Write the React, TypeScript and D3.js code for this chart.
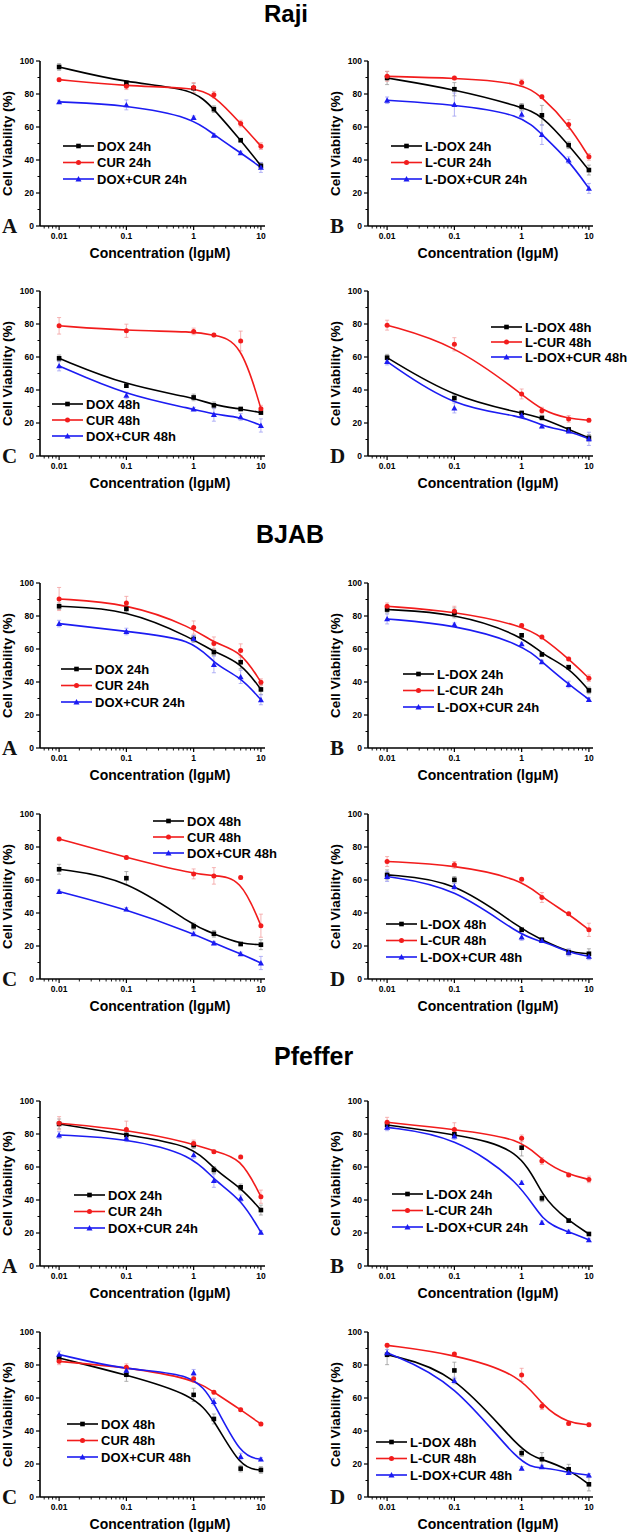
import React from 'react';
import * as d3 from 'd3';

// ---------- data ----------
const CONC = [0.01, 0.1, 1, 2, 5, 10];
const X_TICKS = [0.01, 0.1, 1, 10];
const X_TICK_LABELS = ['0.01', '0.1', '1', '10'];
const Y_TICKS = [0, 20, 40, 60, 80, 100];
const Y_MINOR = [10, 30, 50, 70, 90];
const GROUPS = ['Raji', 'BJAB', 'Pfeffer'];
const LETTERS = ['A', 'B', 'C', 'D'];
const NAMES_FREE_24 = ['DOX 24h', 'CUR 24h', 'DOX+CUR 24h'];
const NAMES_LIPO_24 = ['L-DOX 24h', 'L-CUR 24h', 'L-DOX+CUR 24h'];
const NAMES_FREE_48 = ['DOX 48h', 'CUR 48h', 'DOX+CUR 48h'];
const NAMES_LIPO_48 = ['L-DOX 48h', 'L-CUR 48h', 'L-DOX+CUR 48h'];

// Raji
const rajiA_DOX = [96.4, 86.7, 83.5, 70.8, 52.0, 36.5];
const rajiA_CUR = [88.7, 84.7, 83.9, 79.6, 62.1, 48.4];
const rajiA_MIX = [75.2, 73.4, 65.7, 55.0, 44.4, 35.5];
const rajiB_DOX = [89.7, 82.9, 72.2, 67.1, 49.0, 33.9];
const rajiB_CUR = [90.7, 89.7, 86.9, 78.4, 61.5, 41.9];
const rajiB_MIX = [76.2, 73.6, 67.7, 55.4, 39.9, 22.8];
const rajiC_DOX = [59.2, 42.6, 35.5, 30.7, 28.5, 26.3];
const rajiC_CUR = [78.9, 75.9, 75.5, 73.3, 69.7, 28.7];
const rajiC_MIX = [54.6, 36.7, 28.5, 25.1, 23.7, 18.5];
const rajiD_DOX = [59.6, 35.1, 26.1, 23.1, 16.1, 11.0];
const rajiD_CUR = [79.3, 67.7, 37.6, 27.5, 22.5, 21.7];
const rajiD_MIX = [57.2, 29.1, 24.7, 18.1, 15.1, 10.4];
// BJAB
const bjabA_DOX = [85.9, 84.3, 66.1, 58.1, 52.0, 35.5];
const bjabA_CUR = [90.3, 87.9, 73.0, 63.3, 59.1, 39.9];
const bjabA_MIX = [75.4, 70.6, 66.3, 50.6, 43.1, 29.2];
const bjabB_DOX = [83.9, 81.9, 68.3, 56.7, 49.0, 34.9];
const bjabB_CUR = [85.9, 82.9, 74.2, 67.3, 54.0, 42.3];
const bjabB_MIX = [78.2, 74.8, 63.1, 52.2, 38.5, 29.4];
const bjabC_DOX = [66.5, 61.1, 31.9, 27.4, 21.2, 20.8];
const bjabC_CUR = [84.9, 73.6, 63.7, 62.5, 61.5, 32.3];
const bjabC_MIX = [53.0, 42.3, 27.4, 21.8, 15.3, 9.7];
const bjabD_DOX = [63.1, 60.1, 29.8, 23.8, 16.1, 15.3];
const bjabD_CUR = [71.2, 69.2, 60.5, 49.4, 39.5, 29.8];
const bjabD_MIX = [62.1, 56.0, 25.4, 23.2, 16.1, 13.7];
// Pfeffer
const pfefA_DOX = [86.1, 79.4, 73.3, 58.2, 47.7, 33.9];
const pfefA_CUR = [86.5, 82.8, 74.3, 69.3, 66.1, 42.0];
const pfefA_MIX = [79.4, 77.4, 67.3, 51.7, 41.0, 20.4];
const pfefB_DOX = [85.5, 79.8, 71.7, 41.0, 27.5, 19.4];
const pfefB_CUR = [87.1, 82.8, 77.4, 63.6, 55.2, 52.5];
const pfefB_MIX = [84.0, 78.8, 50.5, 26.3, 20.8, 15.8];
const pfefC_DOX = [84.2, 74.1, 61.9, 47.3, 17.2, 16.4];
const pfefC_CUR = [82.2, 78.7, 71.6, 63.5, 52.9, 44.2];
const pfefC_MIX = [86.4, 76.7, 75.3, 57.8, 24.5, 22.9];
const pfefD_DOX = [86.2, 76.7, 26.6, 22.9, 16.8, 7.7];
const pfefD_CUR = [91.9, 86.6, 74.0, 55.0, 44.6, 43.8];
const pfefD_MIX = [87.4, 70.6, 17.4, 18.3, 14.8, 13.2];

// error bars (SD)
const ERR = [
  [[2, 1, 3, 2, 1, 2], [1, 2, 3, 2, 2, 2], [1, 3, 1, 1, 1, 3]],
  [[4, 4, 2, 6, 2, 3], [3, 1, 2, 1, 3, 2], [2, 7, 2, 6, 2, 3]],
  [[2, 1, 2, 2, 1, 1], [5, 4, 2, 1, 6, 2], [3, 2, 1, 4, 2, 4]],
  [[2, 2, 1, 1, 1, 2], [3, 4, 3, 2, 2, 1], [2, 3, 1, 1, 1, 4]],
  [[2, 2, 2, 2, 4, 3], [7, 4, 4, 4, 4, 2], [2, 2, 2, 5, 4, 3]],
  [[2, 3, 1, 1, 1, 2], [2, 3, 1, 1, 1, 2], [3, 1, 1, 1, 2, 1]],
  [[3, 4, 2, 2, 1, 3], [1, 1, 3, 5, 1, 7], [1, 1, 1, 1, 1, 4]],
  [[3, 2, 1, 1, 2, 3], [3, 2, 1, 3, 1, 4], [3, 2, 2, 1, 2, 2]],
  [[3, 2, 2, 2, 2, 3], [4, 5, 2, 1, 1, 4], [2, 2, 2, 4, 2, 1]],
  [[2, 2, 5, 2, 1, 1], [3, 4, 2, 2, 1, 2], [2, 2, 1, 1, 1, 1]],
  [[2, 4, 4, 3, 2, 2], [2, 2, 2, 1, 1, 1], [2, 2, 2, 2, 2, 1]],
  [[6, 5, 2, 4, 3, 4], [1, 1, 4, 2, 1, 1], [2, 2, 1, 1, 1, 1]],
];

const PANEL_SERIES = [
  [rajiA_DOX, rajiA_CUR, rajiA_MIX],
  [rajiB_DOX, rajiB_CUR, rajiB_MIX],
  [rajiC_DOX, rajiC_CUR, rajiC_MIX],
  [rajiD_DOX, rajiD_CUR, rajiD_MIX],
  [bjabA_DOX, bjabA_CUR, bjabA_MIX],
  [bjabB_DOX, bjabB_CUR, bjabB_MIX],
  [bjabC_DOX, bjabC_CUR, bjabC_MIX],
  [bjabD_DOX, bjabD_CUR, bjabD_MIX],
  [pfefA_DOX, pfefA_CUR, pfefA_MIX],
  [pfefB_DOX, pfefB_CUR, pfefB_MIX],
  [pfefC_DOX, pfefC_CUR, pfefC_MIX],
  [pfefD_DOX, pfefD_CUR, pfefD_MIX],
];
const PANEL_NAMES = [NAMES_FREE_24, NAMES_LIPO_24, NAMES_FREE_48, NAMES_LIPO_48];

// ---------- layout ----------
const W = 630;
const H = 1533;
const PW = 225;
const PH = 165;
const COL_X = [40, 368];
const ROW_TOP = [61, 291, 583, 814, 1101, 1332];
const TITLE_POS = [[264, 22], [256, 543], [274, 1065]];
// legend: [line start x rel axis, first row y rel top, row gap]
const LEGEND_POS = [
  [23, 85, 16.5], [23, 85, 16.5], [12, 113, 16], [123, 36, 15],
  [21, 86, 16.5], [35, 91, 16.5], [113, 7, 16], [18, 110, 16.5],
  [34, 94, 16.5], [24, 93, 16.5], [27, 92, 16.5], [8, 110, 16.5],
];
const COLORS = ['#000000', '#f21c1c', '#1c1cf2'];
const ERR_COLORS = ['#9a9a9a', '#f4a0a0', '#a0a0f4'];
const FONT = "Arial, 'Liberation Sans', sans-serif";

function Marker({ kind, cx, cy, color }: { kind: number; cx: number; cy: number; color: string }) {
  if (kind === 0) return <rect x={cx - 2.3} y={cy - 2.3} width={4.6} height={4.6} fill={color} />;
  if (kind === 1) return <circle cx={cx} cy={cy} r={2.5} fill={color} />;
  const s = 3;
  return <path d={`M${cx},${cy - s}L${cx + s},${cy + s * 0.8}L${cx - s},${cy + s * 0.8}Z`} fill={color} />;
}

function Panel({ idx }: { idx: number }) {
  const col = idx % 2;
  const row = Math.floor(idx / 2);
  const ox = COL_X[col];
  const oy = ROW_TOP[row];
  const x = d3.scaleLog().domain([0.0052, 11.5]).range([0, PW]);
  const y = d3.scaleLinear().domain([0, 100]).range([PH, 0]);
  const line = d3
    .line<number>()
    .x((_, i) => x(CONC[i]))
    .y((d) => y(d))
    .curve(d3.curveBasis);
  const minorX = x.ticks().filter((v) => !X_TICKS.some((t) => Math.abs(t - v) / t < 1e-6));
  const series = PANEL_SERIES[idx];
  const names = PANEL_NAMES[idx % 4];
  const [lx, ly, lg] = LEGEND_POS[idx];
  const errs = ERR[idx];
  return (
    <g transform={`translate(${ox},${oy})`}>
      {/* error bars */}
      {series.map((s, si) => (
        <g key={'e' + si} stroke={ERR_COLORS[si]} strokeWidth={0.8}>
          {s.map((v, i) => {
            const cx = x(CONC[i]);
            const e = errs[si][i];
            return (
              <g key={i}>
                <line x1={cx} x2={cx} y1={y(v - e)} y2={y(v + e)} />
                <line x1={cx - 2} x2={cx + 2} y1={y(v + e)} y2={y(v + e)} />
                <line x1={cx - 2} x2={cx + 2} y1={y(v - e)} y2={y(v - e)} />
              </g>
            );
          })}
        </g>
      ))}
      {/* curves */}
      {series.map((s, si) => (
        <path key={'c' + si} d={line(s) || ''} fill="none" stroke={COLORS[si]} strokeWidth={1.6} />
      ))}
      {/* markers */}
      {series.map((s, si) => (
        <g key={'m' + si}>
          {s.map((v, i) => (
            <Marker key={i} kind={si} cx={x(CONC[i])} cy={y(v)} color={COLORS[si]} />
          ))}
        </g>
      ))}
      {/* axes */}
      <line x1={0} x2={0} y1={0} y2={PH} stroke="#000" strokeWidth={1.6} />
      <line x1={0} x2={PW} y1={PH} y2={PH} stroke="#000" strokeWidth={1.6} />
      {Y_TICKS.map((t) => (
        <g key={'yt' + t}>
          <line x1={-4} x2={0} y1={y(t)} y2={y(t)} stroke="#000" strokeWidth={1.2} />
          <text x={-6} y={y(t) + 3} textAnchor="end" fontSize={8.5} fontWeight="bold" fontFamily={FONT}>
            {t}
          </text>
        </g>
      ))}
      {Y_MINOR.map((t) => (
        <line key={'ym' + t} x1={-2.5} x2={0} y1={y(t)} y2={y(t)} stroke="#000" strokeWidth={1} />
      ))}
      {X_TICKS.map((t, i) => (
        <g key={'xt' + t}>
          <line x1={x(t)} x2={x(t)} y1={PH} y2={PH + 4} stroke="#000" strokeWidth={1.2} />
          <text x={x(t)} y={PH + 13} textAnchor="middle" fontSize={8.5} fontWeight="bold" fontFamily={FONT}>
            {X_TICK_LABELS[i]}
          </text>
        </g>
      ))}
      {minorX.map((t, i) => (
        <line key={'xm' + i} x1={x(t)} x2={x(t)} y1={PH} y2={PH + 2.5} stroke="#000" strokeWidth={0.9} />
      ))}
      {/* axis titles */}
      <text x={120} y={PH + 32} textAnchor="middle" fontSize={14} fontWeight="bold" fontFamily={FONT}>
        Concentration (lgμM)
      </text>
      <text
        transform={`translate(-28,${PH / 2}) rotate(-90)`}
        textAnchor="middle"
        fontSize={13.5}
        fontWeight="bold"
        fontFamily={FONT}
      >
        Cell Viability (%)
      </text>
      {/* panel letter */}
      <text x={-38} y={PH + 7} fontSize={21} fontWeight="bold" fontFamily="'Times New Roman', 'Liberation Serif', serif" fill="#111">
        {LETTERS[idx % 4]}
      </text>
      {/* legend */}
      {names.map((n, si) => {
        const yy = ly + si * lg;
        return (
          <g key={'l' + si}>
            <line x1={lx} x2={lx + 31} y1={yy} y2={yy} stroke={COLORS[si]} strokeWidth={1.6} />
            <Marker kind={si} cx={lx + 15.5} cy={yy} color={COLORS[si]} />
            <text x={lx + 34} y={yy + 4.6} fontSize={13} fontWeight="bold" fontFamily={FONT}>
              {n}
            </text>
          </g>
        );
      })}
    </g>
  );
}

export default function App() {
  return (
    <svg
      width={W}
      height={H}
      viewBox={`0 0 ${W} ${H}`}
      style={{ position: 'absolute', left: 0, top: 0, background: '#fff' }}
    >
      <rect x={0} y={0} width={W} height={H} fill="#fff" />
      {GROUPS.map((g, i) => (
        <text key={g} x={TITLE_POS[i][0]} y={TITLE_POS[i][1]} fontSize={i === 0 ? 24 : 25} fontWeight="bold" fontFamily={FONT}>
          {g}
        </text>
      ))}
      {PANEL_SERIES.map((_, i) => (
        <Panel key={i} idx={i} />
      ))}
    </svg>
  );
}
